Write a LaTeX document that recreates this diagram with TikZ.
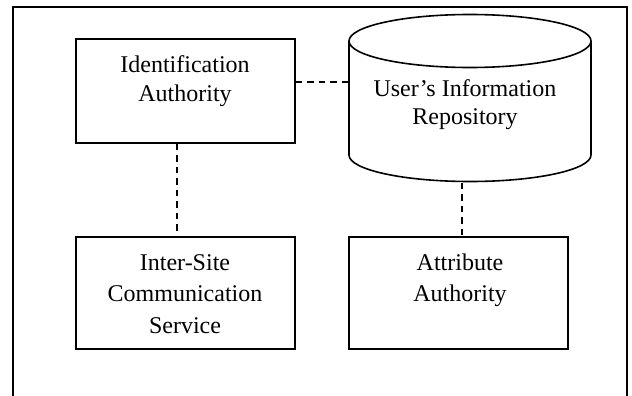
\documentclass[tikz,border=0pt]{standalone}
\usepackage{fontspec}
\setmainfont{Liberation Serif}
\begin{document}
\begin{tikzpicture}[x=1pt,y=-1pt,
  line width=1.6pt,
  box/.style={draw, rectangle, inner sep=0pt},
  lbl/.style={anchor=base, align=center, inner sep=0pt},
  link/.style={line width=1.5pt, dash pattern=on 6.5pt off 5pt}]
\useasboundingbox (0,0) rectangle (632,396);

% open frame (bottom edge lies outside the picture)
\draw (13,396) -- (13,7) -- (627,7) -- (627,396);

% rectangular components
\node[box, minimum width=219pt, minimum height=104pt] (ia) at (185.5,91) {};
\node[box, minimum width=219pt, minimum height=112pt] (iscs) at (185.5,293) {};
\node[box, minimum width=219pt, minimum height=112pt] (aa) at (458.5,293) {};

% repository cylinder: bounding node plus drawn outline
\node[inner sep=0pt, minimum width=242pt, minimum height=167pt] (repo) at (470,98.5) {};
\draw (349,41) -- (349,155) arc[start angle=180, end angle=0, x radius=121, y radius=26.5]
      -- (591,41);
\draw (470,41) ellipse[x radius=121, y radius=26.5];

% labels (anchored at the baseline of their last line)
\node[lbl, font={\fontsize{24}{29.3}\selectfont}] (ia-t) at (185,102) {Identification\\Authority};
\node[lbl, font={\fontsize{24}{31.2}\selectfont}] (iscs-t) at (185,333) {Inter-Site\\Communication\\Service};
\node[lbl, font={\fontsize{24}{31.7}\selectfont}] (aa-t) at (460,301.7) {Attribute\\Authority};
\node[lbl, font={\fontsize{24}{28}\selectfont}] (repo-t) at (465,124.7) {User’s Information\\Repository};

% dashed links
\draw[link] ([yshift=9pt]ia.east) -- ([yshift=9pt]ia.east -| repo.west);
\draw[link] ([xshift=-8.5pt]ia.south) -- ([xshift=-8.5pt]iscs.north);
\draw[link] ([xshift=3.5pt]aa.north |- repo.south) -- ([xshift=3.5pt]aa.north);
\end{tikzpicture}
\end{document}
